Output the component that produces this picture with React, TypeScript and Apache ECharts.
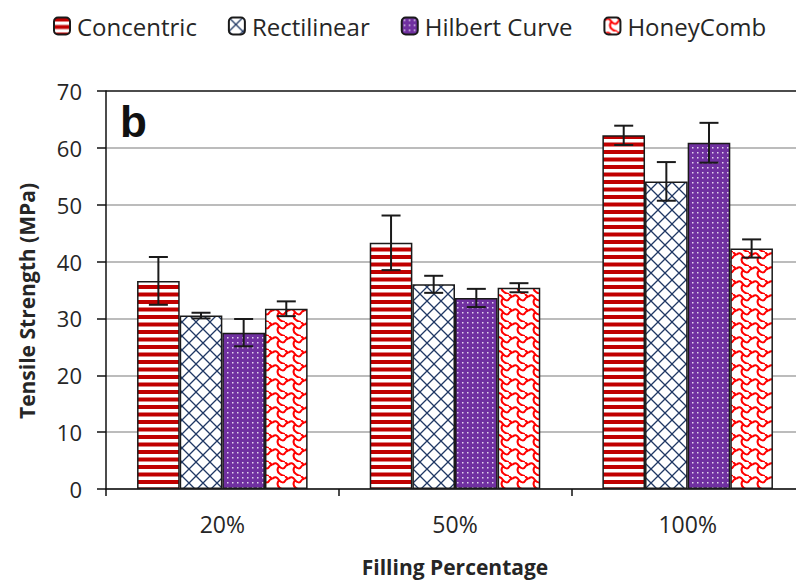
import React, { useEffect, useRef } from "react";
import * as echarts from "echarts";

const categories = ["20%", "50%", "100%"];
const seriesNames = ["Concentric", "Rectilinear", "Hilbert Curve", "HoneyComb"];
const concentric = [36.6, 43.3, 62.2];
const concentricErr = [4.2, 4.8, 1.7];
const rectilinear = [30.5, 36.0, 54.1];
const rectilinearErr = [0.5, 1.5, 3.4];
const hilbert = [27.5, 33.6, 60.9];
const hilbertErr = [2.4, 1.6, 3.5];
const honeycomb = [31.7, 35.4, 42.3];
const honeycombErr = [1.3, 0.8, 1.6];
const yTicks = [0, 10, 20, 30, 40, 50, 60, 70];

const GAP = 0.267;

function makePattern(w: number, h: number, draw: (ctx: CanvasRenderingContext2D) => void) {
  const c = document.createElement("canvas");
  c.width = w;
  c.height = h;
  const ctx = c.getContext("2d") as CanvasRenderingContext2D;
  draw(ctx);
  return { image: c, repeat: "repeat", imageWidth: w, imageHeight: h } as any;
}

export default function App() {
  const ref = useRef<HTMLDivElement>(null);
  useEffect(() => {
    if (!ref.current) return;
    const chart = echarts.init(ref.current, null, { renderer: "svg" });

    const stripes = makePattern(8, 15, (ctx) => {
      ctx.fillStyle = "#ffffff";
      ctx.fillRect(0, 0, 8, 15);
      ctx.fillStyle = "#C00000";
      ctx.fillRect(0, 0, 8, 4);
      ctx.fillRect(0, 7.5, 8, 4);
    });
    const cross = makePattern(14, 14, (ctx) => {
      ctx.fillStyle = "#ffffff";
      ctx.fillRect(0, 0, 14, 14);
      ctx.strokeStyle = "#203864";
      ctx.lineWidth = 1.3;
      ctx.beginPath();
      ctx.moveTo(0, 0);
      ctx.lineTo(14, 14);
      ctx.moveTo(14, 0);
      ctx.lineTo(0, 14);
      ctx.stroke();
    });
    const dots = makePattern(5, 5, (ctx) => {
      ctx.fillStyle = "#7030A0";
      ctx.fillRect(0, 0, 5, 5);
      ctx.fillStyle = "rgba(255,255,255,0.8)";
      ctx.fillRect(2, 2, 1.5, 1.5);
    });
    const honey = makePattern(16, 14, (ctx) => {
      ctx.fillStyle = "#ffffff";
      ctx.fillRect(0, 0, 16, 14);
      ctx.strokeStyle = "#FF0000";
      ctx.lineWidth = 2;
      ctx.beginPath();
      ctx.moveTo(0, 3);
      ctx.bezierCurveTo(3, 0, 5, 1, 7, 4);
      ctx.bezierCurveTo(9, 7, 12, 7, 13, 5);
      ctx.bezierCurveTo(14, 3, 15, 3, 16, 3);
      ctx.moveTo(7, 4);
      ctx.bezierCurveTo(5, 7, 5, 10, 8, 12);
      ctx.bezierCurveTo(10, 13.5, 11, 14, 13, 14);
      ctx.moveTo(13, 0);
      ctx.bezierCurveTo(14, 1, 15, 2, 16, 3);
      ctx.stroke();
    });

    const fills = [stripes, cross, dots, honey];
    const values = [concentric, rectilinear, hilbert, honeycomb];
    const errs = [concentricErr, rectilinearErr, hilbertErr, honeycombErr];

    const barSeries = seriesNames.map((name, k) => ({
      name,
      type: "bar",
      data: values[k],
      barGap: "0%",
      barCategoryGap: GAP * 100 + "%",
      itemStyle: { color: fills[k], borderColor: "#1a1a1a", borderWidth: 1.5 },
      z: 2,
    }));

    const errSeries = seriesNames.map((name, k) => ({
      name: name + " err",
      type: "custom",
      z: 5,
      data: values[k].map((v, i) => [i, v, errs[k][i]]),
      encode: { x: 0, y: 1 },
      renderItem: (params: any, api: any) => {
        const cat = api.value(0);
        const v = api.value(1);
        const e = api.value(2);
        const c = api.coord([cat, v]);
        const band = api.size([1, 0])[0];
        const bw = (band * (1 - GAP)) / 4;
        const x = c[0] + (k - 1.5) * bw;
        const top = api.coord([cat, v + e])[1];
        const bot = api.coord([cat, v - e])[1];
        const half = 9.5;
        const st = { stroke: "#1a1a1a", lineWidth: 2 };
        return {
          type: "group",
          children: [
            { type: "line", shape: { x1: x, y1: top, x2: x, y2: bot }, style: st },
            { type: "line", shape: { x1: x - half, y1: top, x2: x + half, y2: top }, style: st },
            { type: "line", shape: { x1: x - half, y1: bot, x2: x + half, y2: bot }, style: st },
          ],
        };
      },
    }));

    const font = "'Open Sans', 'Noto Sans', sans-serif";
    const gridColors = yTicks.map((t, i) => (i === yTicks.length - 1 ? "#111111" : "#a6a6a6"));

    chart.setOption({
      animation: false,
      textStyle: { fontFamily: font },
      legend: {
        data: seriesNames,
        left: 48,
        top: 9,
        itemWidth: 16,
        itemHeight: 17,
        itemGap: 31,
        textStyle: { fontSize: 24, color: "#262626", fontFamily: font, padding: [0, 0, 0, 2] },
      },
      grid: {
        left: 106,
        top: 91,
        width: 698,
        height: 398,
        containLabel: false,
        outerBoundsMode: "none",
      },
      xAxis: {
        type: "category",
        data: categories,
        axisLine: { lineStyle: { color: "#111111", width: 1.5 } },
        axisTick: { show: true, length: 7, lineStyle: { color: "#111111", width: 1.5 } },
        axisLabel: { fontSize: 23, color: "#262626", margin: 23, fontFamily: font },
        name: "Filling Percentage",
        nameLocation: "middle",
        nameGap: 67,
        nameTextStyle: { fontSize: 21, fontWeight: "bold", color: "#262626", fontFamily: font },
      },
      yAxis: {
        type: "value",
        min: 0,
        max: 70,
        interval: 10,
        axisLine: { show: true, lineStyle: { color: "#111111", width: 1.5 } },
        axisTick: { show: true, inside: false, length: 9, lineStyle: { color: "#111111", width: 1.5 } },
        axisLabel: { fontSize: 22, color: "#262626", margin: 24, fontFamily: font },
        splitLine: { show: true, lineStyle: { color: gridColors, width: 1.5 } },
      },
      graphic: [
        {
          type: "text",
          x: 27,
          y: 301,
          rotation: Math.PI / 2,
          style: {
            text: "Tensile Strength (MPa)",
            fontSize: 21,
            fontWeight: "bold",
            fontFamily: font,
            fill: "#262626",
            align: "center",
            verticalAlign: "middle",
          },
        },
        {
          type: "text",
          x: 120,
          y: 121,
          style: {
            text: "b",
            fontSize: 44,
            fontWeight: "bold",
            fontFamily: "'Liberation Sans', Arial, sans-serif",
            fill: "#111111",
            align: "left",
            verticalAlign: "middle",
          },
        },
      ],
      series: [...barSeries, ...errSeries],
    } as any);
    return () => chart.dispose();
  }, []);
  return <div ref={ref} style={{ width: 796, height: 584, position: "absolute", left: 0, top: 0 }} />;
}
